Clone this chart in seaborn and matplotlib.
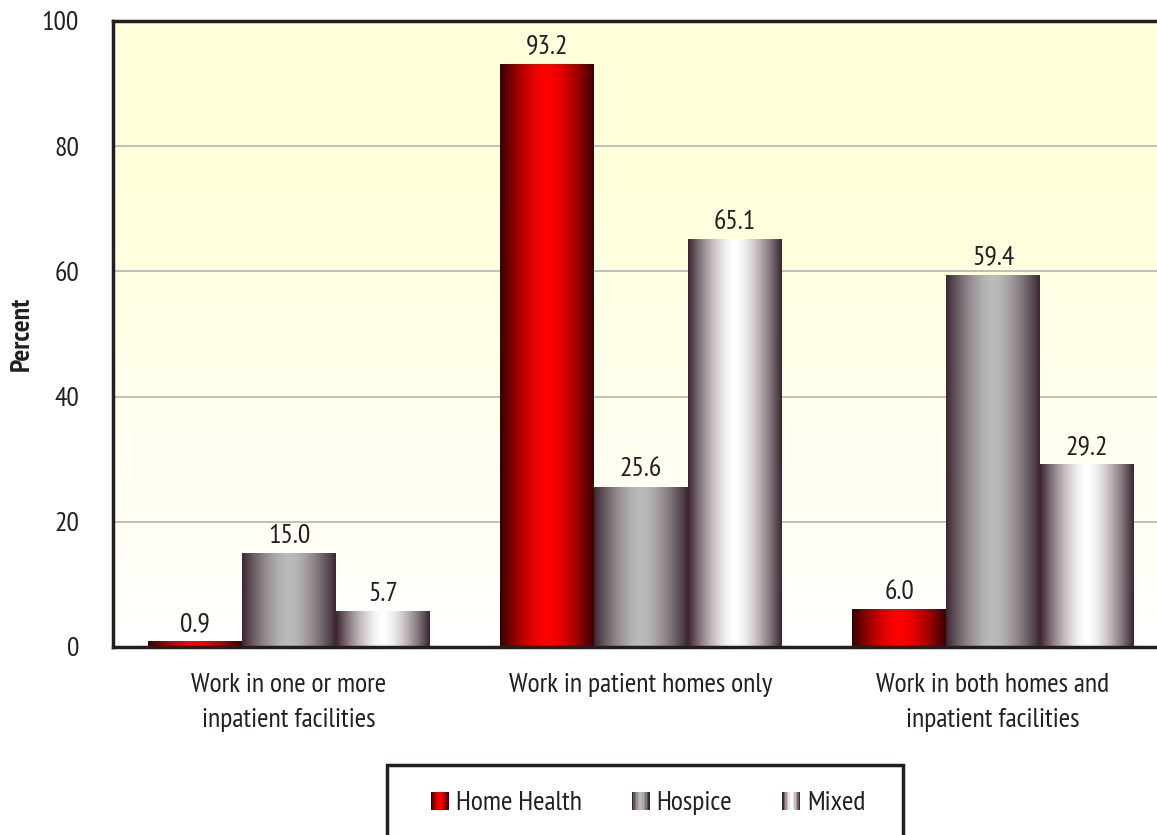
import numpy as np
import pandas as pd
import matplotlib
matplotlib.use("Agg")
import matplotlib.pyplot as plt
import matplotlib.patches as mpatches
from matplotlib.colors import to_rgb
from matplotlib.legend_handler import HandlerBase
import seaborn as sns

categories = ["Work in one or more\ninpatient facilities",
              "Work in patient homes only",
              "Work in both homes and\ninpatient facilities"]
series = ["Home Health", "Hospice", "Mixed"]
home_health = [0.9, 93.2, 6.0]
hospice = [15.0, 25.6, 59.4]
mixed = [5.7, 65.1, 29.2]

# edge colour, centre colour for the cylinder-like shading
shades = {"Home Health": ("#3a0000", "#ff0000"),
          "Hospice": ("#3e2834", "#bcbcbc"),
          "Mixed": ("#3e2834", "#ffffff")}

df = pd.DataFrame({
    "category": categories * 3,
    "series": [s for s in series for _ in categories],
    "value": home_health + hospice + mixed,
})

sns.set_style("white")
plt.rcParams["font.family"] = ["PT Sans Narrow", "Fira Sans Condensed", "DejaVu Sans"]
TXT = "#231f20"
FS = 20


def gradient_row(edge, centre, n=64):
    t = np.abs(np.linspace(-1, 1, n))
    t = t ** 1.6
    e = np.array(to_rgb(edge))
    c = np.array(to_rgb(centre))
    return (c[None, :] * (1 - t[:, None]) + e[None, :] * t[:, None])[None, :, :]


fig = plt.figure(figsize=(11.57, 8.35), dpi=100)
ax = fig.add_axes([113 / 1157, 1 - 647 / 835, 1056 / 1157, 626 / 835])

sns.barplot(data=df, x="category", y="value", hue="series", order=categories,
            hue_order=series, width=0.8, ax=ax, legend=False, zorder=2)

ax.set_xlim(-0.5, 2.5)
ax.set_ylim(0, 100)
ax.set_yticks(range(0, 101, 20))

# background gradient light yellow -> white
frac = np.clip(np.linspace(0, 1.3, 100), 0, 1)
bg = np.ones((100, 1, 3))
bg[:, 0, 2] = 1 - frac * 36 / 255.0
ax.imshow(bg, extent=(-0.5, 2.5, 0, 100), aspect="auto", zorder=0, origin="lower")
ax.grid(axis="y", color="#b4b4b4", linewidth=1.2, zorder=1)
ax.set_axisbelow(True)

# shade each bar with its gradient and add labels
for bars, name in zip(ax.containers, series):
    edge, centre = shades[name]
    img = gradient_row(edge, centre)
    for rect in bars:
        x0, w, h = rect.get_x(), rect.get_width(), rect.get_height()
        rect.set_facecolor("none")
        rect.set_edgecolor("none")
        im = ax.imshow(img, extent=(x0, x0 + w, 0, h), aspect="auto", zorder=2,
                       interpolation="bilinear")
        im.set_clip_path(rect)
    ax.bar_label(bars, fmt="%.1f", padding=4, fontsize=FS, color=TXT)

ax.set_xlim(-0.5, 2.5)
ax.set_ylim(0, 100)

ax.spines["right"].set_visible(False)
for side in ["left", "top", "bottom"]:
    ax.spines[side].set_color(TXT)
    ax.spines[side].set_linewidth(2.5)

ax.set_xticks([0, 1, 2])
ax.set_xticklabels(categories, fontsize=FS, color=TXT, linespacing=1.55)
ax.tick_params(axis="x", length=0, pad=19)
ax.set_xticks([0.5, 1.5], minor=True)
ax.tick_params(axis="x", which="minor", length=7, width=1.2, color=TXT)
ax.tick_params(axis="y", length=6.5, width=1.2, color=TXT, labelsize=FS,
               labelcolor=TXT, pad=18)
ax.set_xlabel("")
ax.set_ylabel("Percent", fontsize=FS, fontweight="bold", color=TXT)
ax.yaxis.set_label_coords(-79 / 1056, 0.5)


class GradientHandler(HandlerBase):
    def __init__(self, edge, centre):
        super().__init__()
        self.edge = edge
        self.centre = centre

    def create_artists(self, legend, orig_handle, xdescent, ydescent, width,
                       height, fontsize, trans):
        n = 12
        row = gradient_row(self.edge, self.centre, n)[0]
        size = 18 * 72 / 100
        x0 = xdescent + width - size
        y0 = -ydescent + (height - size) / 2
        arts = []
        for i in range(n):
            r = mpatches.Rectangle((x0 + i * size / n, y0), size / n * 1.05, size,
                                   facecolor=row[i], edgecolor="none", transform=trans)
            arts.append(r)
        return arts


handles = [mpatches.Patch(label=s) for s in series]
handler_map = {h: GradientHandler(*shades[s]) for h, s in zip(handles, series)}
fig.patches.append(mpatches.Rectangle((387 / 1157, -0.05), 516 / 1157, 0.05 + 70 / 835,
                                      transform=fig.transFigure, facecolor="white",
                                      edgecolor=TXT, linewidth=2.5, zorder=5))
leg = fig.legend(handles=handles, handler_map=handler_map, loc="center",
                 bbox_to_anchor=(648 / 1157, 1 - 803 / 835), ncol=3, frameon=False,
                 fontsize=FS, handlelength=0.65, handletextpad=0.25, columnspacing=1.8)
for t in leg.get_texts():
    t.set_color(TXT)
leg.set_zorder(6)

fig.savefig("out.png", dpi=100)
